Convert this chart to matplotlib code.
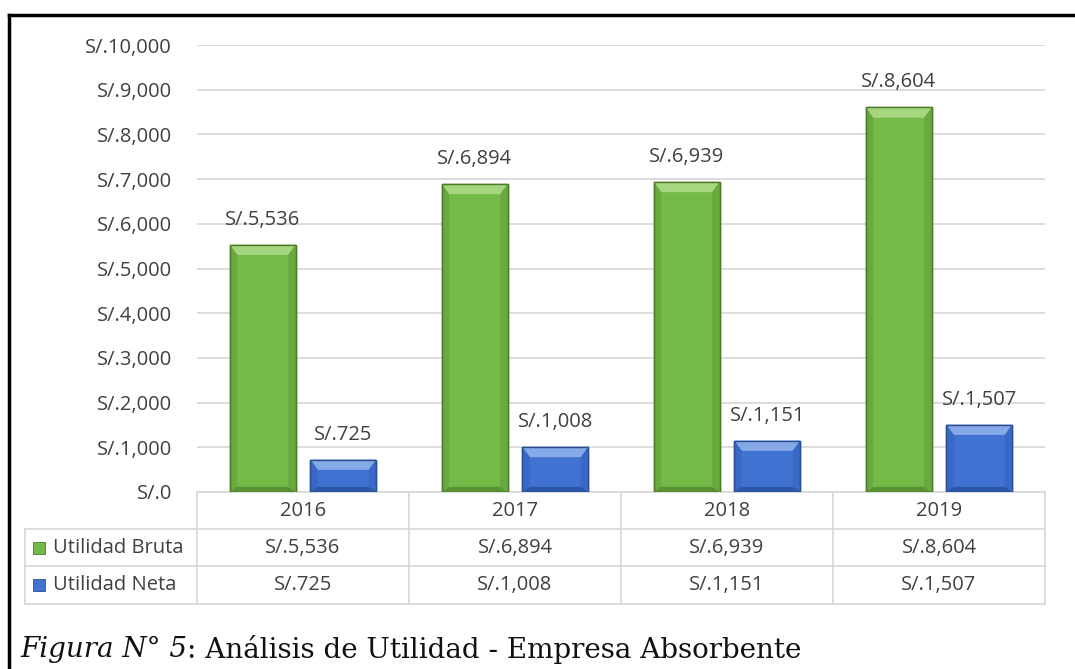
import numpy as np
import matplotlib
matplotlib.use("Agg")
import matplotlib.pyplot as plt
from matplotlib.patches import Polygon, Rectangle
from matplotlib.lines import Line2D

# data
years = ["2016", "2017", "2018", "2019"]
bruta = [5536, 6894, 6939, 8604]
neta = [725, 1008, 1151, 1507]
series_names = ["Utilidad Bruta", "Utilidad Neta"]

def soles(v):
    return "S/.{:,.0f}".format(v) if v != 0 else "S/.0"

plt.rcParams['font.family'] = ['Open Sans', 'DejaVu Sans']
txt_col = "#404040"
grid_col = "#d9d9d9"
fs = 14.5

fig = plt.figure(figsize=(10.75, 6.69), dpi=100)
ax = fig.add_axes([0.1833, 0.2646, 0.7888, 0.668])

x = np.arange(len(years))
w = 0.31
off = 0.19

styles = [
    dict(face="#74BA48", top="#A6D680", side="#5F9C36", bot="#5A9233", edge="#4C7A2B"),
    dict(face="#4072D2", top="#86A9E8", side="#3462BA", bot="#2E56A6", edge="#2A4F96"),
]

bev_x = 0.035   # bevel width in category units
bev_y = 230     # bevel height in data units

for vals, sgn, st in [(bruta, -1, styles[0]), (neta, 1, styles[1])]:
    xs = x + sgn * off
    ax.bar(xs, vals, w, color=st["face"], edgecolor=st["edge"], linewidth=1.0, zorder=3)
    for xc, v in zip(xs, vals):
        l, r = xc - w / 2, xc + w / 2
        # bevel facets
        ax.add_patch(Polygon([(l, v), (r, v), (r - bev_x, v - bev_y), (l + bev_x, v - bev_y)],
                             closed=True, fc=st["top"], ec="none", zorder=4))
        ax.add_patch(Polygon([(l, 0), (l, v), (l + bev_x, v - bev_y), (l + bev_x, bev_y * 0.5)],
                             closed=True, fc=st["side"], ec="none", zorder=4, alpha=0.5))
        ax.add_patch(Polygon([(r, 0), (r, v), (r - bev_x, v - bev_y), (r - bev_x, bev_y * 0.5)],
                             closed=True, fc=st["side"], ec="none", zorder=4, alpha=0.5))
        ax.add_patch(Polygon([(l, 0), (r, 0), (r - bev_x, bev_y * 0.5), (l + bev_x, bev_y * 0.5)],
                             closed=True, fc=st["bot"], ec="none", zorder=4))
        ax.add_patch(Rectangle((l, 0), w, v, fc="none", ec=st["edge"], lw=1.0, zorder=5))
        ax.text(xc, v + 560, soles(v), ha="center", va="center", fontsize=fs,
                color=txt_col, zorder=6)

ax.set_xlim(-0.5, len(years) - 0.5)
ax.set_ylim(0, 10000)
ax.set_yticks(np.arange(0, 10001, 1000))
ax.set_yticklabels([soles(v) for v in np.arange(0, 10001, 1000)], fontsize=fs, color=txt_col)
ax.tick_params(axis="y", length=0, pad=18)
ax.set_xticks([])
ax.grid(axis="y", color=grid_col, linewidth=1.3, zorder=0)
for s in ax.spines.values():
    s.set_visible(False)

# data table below the plot
row_h = 0.0832   # axes fraction per table row
label_left = (25 / 1075 - 0.1833) / 0.7888 * (len(years)) - 0.5
trans = ax.get_xaxis_transform()
nrows = 3
ys = [-row_h * i for i in range(nrows + 1)]
lc = grid_col
ax.add_line(Line2D([-0.5, len(years) - 0.5], [0, 0], transform=trans, color=lc, lw=1.3, clip_on=False))
for yy in ys[1:]:
    ax.add_line(Line2D([label_left, len(years) - 0.5], [yy, yy], transform=trans, color=lc, lw=1.3, clip_on=False))
for xv in np.arange(-0.5, len(years), 1.0):
    ax.add_line(Line2D([xv, xv], [0, ys[-1]], transform=trans, color=lc, lw=1.3, clip_on=False))
ax.add_line(Line2D([label_left, label_left], [ys[1], ys[-1]], transform=trans, color=lc, lw=1.3, clip_on=False))

for i, yr in enumerate(years):
    ax.text(i, -row_h * 0.5, yr, transform=trans, ha="center", va="center", fontsize=fs, color=txt_col)
for r, (vals, name, st) in enumerate([(bruta, series_names[0], styles[0]), (neta, series_names[1], styles[1])]):
    yc = -row_h * (r + 1.5)
    for i, v in enumerate(vals):
        ax.text(i, yc, soles(v), transform=trans, ha="center", va="center", fontsize=fs, color=txt_col)
    # legend key + name
    ax.add_line(Line2D([label_left + 0.065], [yc], transform=trans, marker="s", markersize=8.5,
                       markerfacecolor=st["face"], markeredgecolor=st["edge"], markeredgewidth=0.6,
                       linestyle="none", clip_on=False))
    ax.text(label_left + 0.13, yc, name, transform=trans, ha="left", va="center", fontsize=fs,
            color=txt_col)

# outer black frame (open to the right and bottom)
fig.add_artist(Line2D([9 / 1075, 9 / 1075], [0, 1 - 15 / 669], color="black", lw=2.5,
                      transform=fig.transFigure))
fig.add_artist(Line2D([9 / 1075, 1], [1 - 15 / 669, 1 - 15 / 669], color="black", lw=2.5,
                      transform=fig.transFigure))

# caption
cap = fig.text(20 / 1075, 1 - 649 / 669, "Figura N° 5", fontsize=20, style="italic",
               family="DejaVu Serif", va="center", ha="left", color="#111111")
fig.canvas.draw()
bb = cap.get_window_extent()
fig.text(bb.x1 / fig.bbox.width, 1 - 649 / 669, ": Análisis de Utilidad - Empresa Absorbente",
         fontsize=20, family="DejaVu Serif", va="center", ha="left", color="#111111")

fig.savefig("out.png", dpi=100, facecolor="white")
